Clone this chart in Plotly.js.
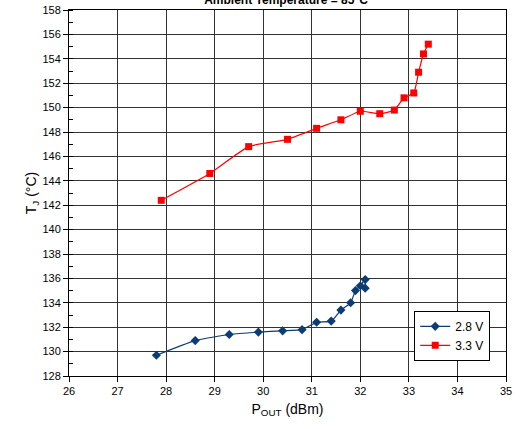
<!DOCTYPE html>
<html>
<head>
<meta charset="utf-8">
<script src="https://cdn.plot.ly/plotly-3.0.1.min.js"></script>
<style>html,body{margin:0;padding:0;background:#fff;}#chart{width:520px;height:429px;}</style>
</head>
<body>
<div id="chart"></div>
<script>
// Series 2.8 V
const pout28 = [27.8, 28.6, 29.3, 29.9, 30.4, 30.8, 31.1, 31.4, 31.6, 31.8, 31.9, 32.0, 32.1, 32.1];
const tj28   = [129.7, 130.9, 131.4, 131.6, 131.7, 131.8, 132.4, 132.5, 133.4, 134.0, 135.0, 135.4, 135.9, 135.2];
// Series 3.3 V
const pout33 = [27.9, 28.9, 29.7, 30.5, 31.1, 31.6, 32.0, 32.4, 32.7, 32.9, 33.1, 33.2, 33.3, 33.4];
const tj33   = [142.4, 144.6, 146.8, 147.4, 148.3, 149.0, 149.7, 149.5, 149.8, 150.8, 151.2, 152.9, 154.4, 155.2];
const seriesNames = ['2.8 V', '3.3 V'];
const titleText = 'Ambient Temperature = 85°C';

const traces = [
  {x: pout28, y: tj28, name: seriesNames[0], type: 'scatter', mode: 'lines+markers',
   line: {color: '#0B3C73', width: 1.2, shape: 'spline', smoothing: 0.5},
   marker: {symbol: 'diamond', size: 7, color: '#0B3C73'}},
  {x: pout33, y: tj33, name: seriesNames[1], type: 'scatter', mode: 'lines+markers',
   line: {color: '#FF0000', width: 1.2, shape: 'spline', smoothing: 0.5},
   marker: {symbol: 'square', size: 7, color: '#FF0000'}}
];

const layout = {
  width: 520, height: 429,
  margin: {l: 69, r: 14, t: 10, b: 53},
  paper_bgcolor: '#fff', plot_bgcolor: '#fff',
  font: {family: 'Liberation Sans, Arial, sans-serif', size: 11, color: '#000'},
  title: {text: '<b>' + titleText + '</b>', x: 0.55, xanchor: 'center', y: 1, yref: 'container', yanchor: 'middle',
          font: {size: 12, color: '#000'}},
  xaxis: {range: [26, 35], dtick: 1, tick0: 26, showgrid: true, gridcolor: '#333', gridwidth: 1,
          zeroline: false, showline: true, linecolor: '#000', linewidth: 1, mirror: true,
          ticks: 'outside', ticklen: 5, tickcolor: '#000', tickfont: {size: 11},
          title: {text: 'P<sub>OUT</sub> (dBm)', font: {size: 14}, standoff: 7}},
  yaxis: {range: [128, 158], dtick: 2, tick0: 128, showgrid: true, gridcolor: '#333', gridwidth: 1,
          zeroline: false, showline: true, linecolor: '#000', linewidth: 1, mirror: true,
          ticks: 'outside', ticklen: 5, tickcolor: '#000', tickfont: {size: 11},
          minor: {dtick: 1, ticks: 'inside', ticklen: 4, tickcolor: '#000', showgrid: false},
          title: {text: 'T<sub>J</sub> (°C)', font: {size: 14}, standoff: 2}},
  showlegend: true,
  legend: {x: 0.79, y: 0.178, xanchor: 'left', yanchor: 'top', bgcolor: '#fff',
           bordercolor: '#000', borderwidth: 1, font: {size: 12}, tracegroupgap: 2}
};

Plotly.newPlot('chart', traces, layout, {displayModeBar: false, staticPlot: true});
</script>
</body>
</html>
